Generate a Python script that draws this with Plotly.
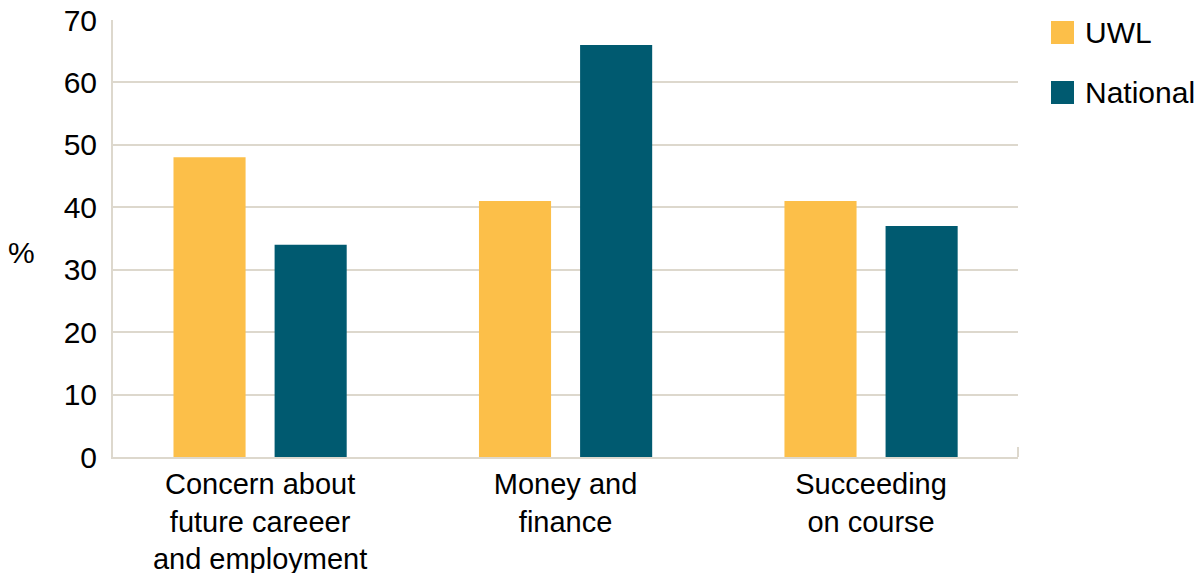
import plotly.graph_objects as go

# Survey results: share of students reporting each worry (%)
categories = ["Concern about future careeer and employment", "Money and finance", "Succeeding on course"]
tick_labels = ["Concern about<br>future careeer<br>and employment", "Money and<br>finance", "Succeeding<br>on course"]
series_names = ["UWL", "National"]
uwl_values = [48, 41, 41]
national_values = [34, 66, 37]
y_ticks = [0, 10, 20, 30, 40, 50, 60, 70]

colors = {"UWL": "#FCBF49", "National": "#005A70"}
grid_color = "#DDD8CD"
font_family = "Liberation Sans, Arial, sans-serif"

PLOT_W, PLOT_H = 905, 437

fig = go.Figure()
for name, vals in zip(series_names, [uwl_values, national_values]):
    fig.add_trace(go.Bar(
        x=categories, y=vals, name=name,
        marker=dict(color=colors[name], line=dict(width=0)),
        showlegend=False, hoverinfo="x+y+name",
    ))

fig.update_layout(
    width=1198, height=573,
    margin=dict(l=113, r=180, t=20, b=116),
    paper_bgcolor="white", plot_bgcolor="white",
    barmode="group", bargap=0.338, bargroupgap=0.287,
    font=dict(family=font_family, size=30, color="#000000"),
)

fig.update_xaxes(
    type="category", automargin=False,
    range=[-0.4815, 2.481],
    tickmode="array", tickvals=categories, ticktext=tick_labels,
    showgrid=False, showline=True, linecolor=grid_color, linewidth=2,
    ticks="", tickfont=dict(size=29), ticklabelstandoff=0,
)
fig.update_yaxes(
    automargin=False,
    range=[0, 70], tickvals=y_ticks,
    showgrid=True, gridcolor=grid_color, gridwidth=2,
    showline=True, linecolor=grid_color, linewidth=2,
    zeroline=False, ticks="", ticklabelstandoff=8,
    tickfont=dict(size=30),
)

# Axis unit label, kept horizontal beside the value axis
fig.add_annotation(
    text="%", xref="paper", yref="paper", x=(21.5 - 113) / PLOT_W, y=1 - (252.5 - 20) / PLOT_H,
    xanchor="center", yanchor="middle", showarrow=False,
    font=dict(size=30),
)

# Closing tick at the right end of the category axis
fig.add_shape(
    type="line", xref="paper", yref="paper",
    x0=1, x1=1, y0=0, y1=10 / PLOT_H,
    line=dict(color=grid_color, width=2),
)

# Legend: square swatches with series names
for i, name in enumerate(series_names):
    yc = 1 - (12.5 + 60 * i) / PLOT_H
    fig.add_shape(
        type="rect", xref="paper", yref="paper",
        x0=1 + (1051 - 1018) / PLOT_W, x1=1 + (1074 - 1018) / PLOT_W,
        y0=yc - 11.5 / PLOT_H, y1=yc + 11.5 / PLOT_H,
        fillcolor=colors[name], line=dict(width=0),
    )
    fig.add_annotation(
        text=name, xref="paper", yref="paper",
        x=1 + (1083 - 1018) / PLOT_W, y=yc,
        xanchor="left", yanchor="middle", showarrow=False,
        font=dict(size=30),
    )

fig.write_html("out.html")
